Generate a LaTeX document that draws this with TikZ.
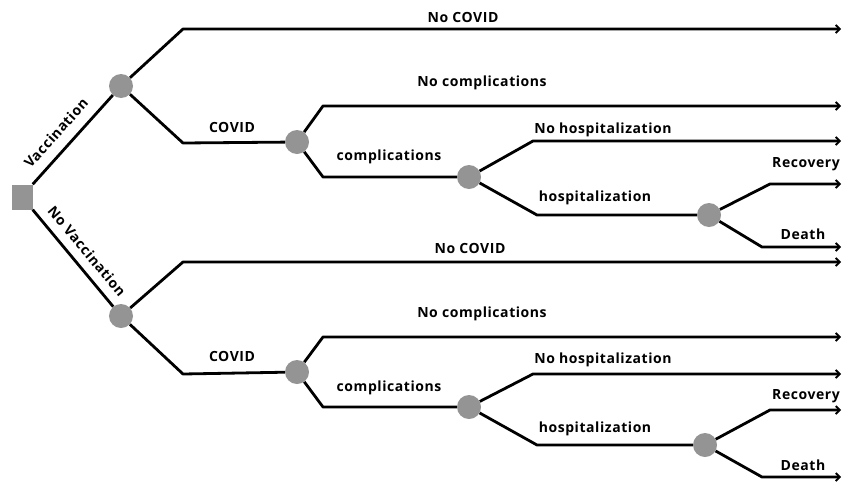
\documentclass[tikz,border=0pt]{standalone}
\usepackage{fontspec}
\setsansfont{Open Sans}
\newfontfamily\lblfont[LetterSpace=4]{Open Sans}
\usetikzlibrary{arrows.meta}
\tikzset{
  x=1pt,y=-1pt,
  chance/.style={circle,fill=black!42,minimum size=24pt,inner sep=0pt},
  decision/.style={rectangle,fill=black!42,minimum width=21pt,minimum height=25pt,inner sep=0pt},
  branch/.style={line width=2.8pt,line join=round},
  outcome/.style={branch,-{Straight Barb[length=4pt,width=8pt,line width=1.8pt]}},
  lbl/.style={font=\lblfont\bfseries\fontsize{14}{16}\selectfont,inner sep=0pt}
}
\begin{document}
\begin{tikzpicture}
\useasboundingbox (0,0) rectangle (842,482);
% nodes
\node[decision] (sq) at (22,197) {};
\node[chance] (c1) at (121,86) {};
\node[chance] (c2) at (297,142) {};
\node[chance] (c3) at (469,177) {};
\node[chance] (c4) at (709,215) {};
\node[chance] (c5) at (121,316) {};
\node[chance] (c6) at (297,372) {};
\node[chance] (c7) at (469,407) {};
\node[chance] (c8) at (705,445) {};
% corner and end coordinates
\coordinate (k1) at (183,29);  \coordinate (e1) at (841,29);
\coordinate (k2) at (183,143);
\coordinate (k3) at (323,106); \coordinate (e3) at (841,106);
\coordinate (k4) at (323,177);
\coordinate (k5) at (533,141); \coordinate (e5) at (841,141);
\coordinate (k6) at (537,215);
\coordinate (k7) at (770,184); \coordinate (e7) at (841,184);
\coordinate (k8) at (762,247); \coordinate (e8) at (841,247);
\coordinate (m1) at (183,262); \coordinate (f1) at (841,262);
\coordinate (m2) at (183,374);
\coordinate (m3) at (323,337); \coordinate (f3) at (841,337);
\coordinate (m4) at (323,407);
\coordinate (m5) at (533,374); \coordinate (f5) at (841,374);
\coordinate (m6) at (537,445);
\coordinate (m7) at (770,410); \coordinate (f7) at (841,410);
\coordinate (m8) at (762,477); \coordinate (f8) at (841,477);
% connectors (upper)
\draw[branch] (sq.north east) -- (c1);
\draw[outcome] (c1) -- (k1) -- (e1);
\draw[branch] (c1) -- (k2) -- (c2);
\draw[outcome] (c2) -- (k3) -- (e3);
\draw[branch] (c2) -- (k4) -- (c3);
\draw[outcome] (c3) -- (k5) -- (e5);
\draw[branch] (c3) -- (k6) -- (c4);
\draw[outcome] (c4) -- (k7) -- (e7);
\draw[outcome] (c4) -- (k8) -- (e8);
% connectors (lower)
\draw[branch] (sq.south east) -- (c5);
\draw[outcome] (c5) -- (m1) -- (f1);
\draw[branch] (c5) -- (m2) -- (c6);
\draw[outcome] (c6) -- (m3) -- (f3);
\draw[branch] (c6) -- (m4) -- (c7);
\draw[outcome] (c7) -- (m5) -- (f5);
\draw[branch] (c7) -- (m6) -- (c8);
\draw[outcome] (c8) -- (m7) -- (f7);
\draw[outcome] (c8) -- (m8) -- (f8);
% labels
\node[lbl,rotate=48] (lv) at (56,133) {Vaccination};
\node[lbl,rotate=-50] (lnv) at (87,251) {No Vaccination};
\node[lbl] (t1) at (463,17) {No COVID};
\node[lbl] (t2) at (482,83) {No complications};
\node[lbl] (t3) at (232,127) {COVID};
\node[lbl] (t4) at (389,157) {complications};
\node[lbl] (t5) at (603,130) {No hospitalization};
\node[lbl] (t6) at (595,198) {hospitalization};
\node[lbl] (t7) at (806,164) {Recovery};
\node[lbl] (t8) at (803,234) {Death};
\node[lbl] (u1) at (470,248) {No COVID};
\node[lbl] (u2) at (482,314) {No complications};
\node[lbl] (u3) at (232,356) {COVID};
\node[lbl] (u4) at (389,388) {complications};
\node[lbl] (u5) at (603,360) {No hospitalization};
\node[lbl] (u6) at (595,429) {hospitalization};
\node[lbl] (u7) at (806,396) {Recovery};
\node[lbl] (u8) at (803,465) {Death};
\end{tikzpicture}
\end{document}
